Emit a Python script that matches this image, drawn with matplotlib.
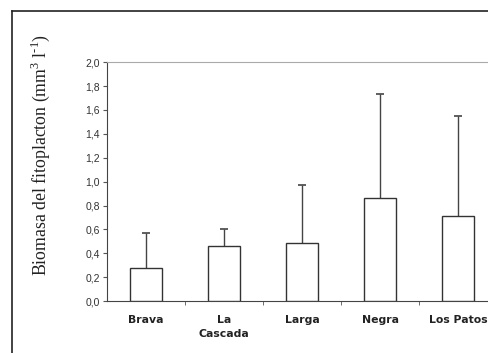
import matplotlib.pyplot as plt
from matplotlib.lines import Line2D
import numpy as np

lagunas = ['Brava', 'La\nCascada', 'Larga', 'Negra', 'Los Patos']
biomasa = [0.28, 0.46, 0.49, 0.865, 0.71]
error_sup = [0.29, 0.145, 0.48, 0.865, 0.84]
yticks = [0.0, 0.2, 0.4, 0.6, 0.8, 1.0, 1.2, 1.4, 1.6, 1.8, 2.0]

plt.rcParams['mathtext.fontset'] = 'custom'
plt.rcParams['mathtext.rm'] = 'Liberation Serif'

fig = plt.figure(figsize=(4.88, 3.53), dpi=100)
ax = fig.add_axes([0.219, 0.147, 0.80, 0.677])

x = np.arange(len(lagunas))
ax.bar(x, biomasa, width=0.41, color='white', edgecolor='#333333', linewidth=1.0, zorder=3)
eb = ax.errorbar(x, biomasa, yerr=[np.zeros(len(x)), error_sup], fmt='none',
                 ecolor='#444444', elinewidth=1.0, capsize=3, capthick=1.2, zorder=2)
eb[1][0].set_visible(False)  # sin tope abajo

ax.set_xlim(-0.5, len(lagunas) - 0.5)
ax.set_ylim(0, 2.0)
ax.set_yticks(yticks)
ax.set_yticklabels([('%.1f' % v).replace('.', ',') for v in yticks],
                   fontsize=7.5, color='#333333', family='Liberation Sans')
ax.set_xticks(x)
ax.set_xticklabels(lagunas, fontsize=7.8, fontweight='bold', family='DejaVu Sans',
                   linespacing=1.45, color='#222222')
ax.tick_params(axis='x', length=0, pad=10)
ax.set_xticks(x[:-1] + 0.5, minor=True)
ax.tick_params(axis='x', which='minor', length=3, color='#555555')
ax.tick_params(axis='y', length=3, color='#555555', pad=2)

ax.spines['right'].set_visible(False)
ax.spines['top'].set_color('#aaaaaa')
ax.spines['left'].set_color('#444444')
ax.spines['bottom'].set_color('#444444')

fig.text(0.082, 0.56, 'Biomasa del fitoplacton (mm$^{\\mathrm{3}}$ l$^{\\text{-1}}$)', rotation=90,
         ha='center', va='center', fontsize=12.8, family='Liberation Serif',
         color='#222222')

# marco exterior
fig.add_artist(Line2D([0.025, 0.025], [0.0, 0.969], color='#222222', lw=1.2))
fig.add_artist(Line2D([0.025, 1.0], [0.969, 0.969], color='#222222', lw=1.2))

fig.savefig('out.png', dpi=100)
